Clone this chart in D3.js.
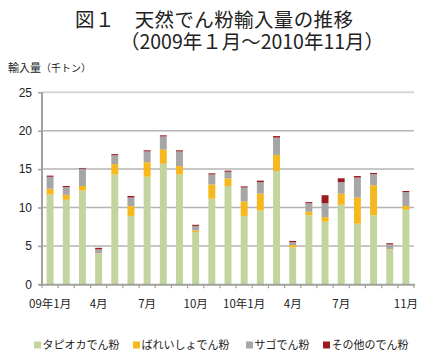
<!DOCTYPE html>
<html><head><meta charset="utf-8">
<script src="https://cdn.jsdelivr.net/npm/d3@7"></script>
<style>body{margin:0;background:#fff}svg{display:block}text{font-family:"Noto Sans CJK JP","Noto Sans",sans-serif;fill:#222}</style>
</head><body><svg id="c" width="431" height="359"></svg>
<script>
const months = ["2009-01","2009-02","2009-03","2009-04","2009-05","2009-06","2009-07","2009-08","2009-09","2009-10","2009-11","2009-12",
  "2010-01","2010-02","2010-03","2010-04","2010-05","2010-06","2010-07","2010-08","2010-09","2010-10","2010-11"];
const monthLabels = ["09年1月","","","4月","","","7月","","","10月","","","10年1月","","","4月","","","7月","","","","11月"];
const tapioca = [11.7,11.0,12.2,4.0,14.3,8.9,14.0,15.7,14.3,6.8,11.15,12.8,8.9,9.6,14.75,4.8,9.0,8.15,10.35,7.9,9.0,4.55,9.7];
const potato  = [0.75,0.65,0.6,0.05,1.35,1.3,1.9,1.85,1.1,0.2,1.85,1.0,1.9,2.2,2.1,0.3,0.45,0.6,1.45,3.4,3.9,0.05,0.5];
const sago    = [1.55,1.0,2.25,0.5,1.15,1.1,1.4,1.7,1.9,0.6,1.3,0.85,1.8,1.5,2.25,0.4,1.1,1.8,1.5,2.6,1.45,0.6,1.8];
const other   = [0.15,0.15,0.1,0.2,0.15,0.2,0.15,0.15,0.15,0.15,0.15,0.15,0.15,0.2,0.2,0.15,0.15,1.05,0.5,0.2,0.15,0.15,0.15];
const seriesNames = ["タピオカでん粉","ばれいしょでん粉","サゴでん粉","その他のでん粉"];
const yTicks = [0,5,10,15,20,25];

const colors = ["#c3d59e","#f7b81e","#a6a6a6","#9b1c20"];
const keys = ["tapioca","potato","sago","other"];
const table = months.map((m,i)=>({m, tapioca:tapioca[i], potato:potato[i], sago:sago[i], other:other[i]}));

const svg = d3.select("#c");
const L=42, R=414, T=92.3, B=284.3;
const x = d3.scaleBand().domain(months).range([L,R]).paddingInner(0.57).paddingOuter(0.285);
const y = d3.scaleLinear().domain([0,25]).range([B,T]);
const step = x.step();

// title
svg.append("text").attr("x",75).attr("y",27).attr("font-size",19.5).attr("textLength",278).attr("lengthAdjust","spacing").text("図１　天然でん粉輸入量の推移");
svg.append("text").attr("x",120).attr("y",48.5).attr("font-size",19.5).attr("textLength",264).attr("lengthAdjust","spacing").text("（2009年１月～2010年11月）");
const yl = svg.append("text").attr("x",8).attr("y",72).attr("font-size",11);
yl.append("tspan").text("輸入量");
yl.append("tspan").attr("font-size",10).text("（千トン）");

// gridlines
svg.append("g").selectAll("line").data(yTicks.filter(d=>d>0)).join("line")
  .attr("x1",L).attr("x2",R).attr("y1",d=>y(d)).attr("y2",d=>y(d))
  .attr("stroke",d=>d===25?"#d6d6d6":"#b4b4b4").attr("stroke-width",d=>d===25?2:1.5);

// bars
const stack = d3.stack().keys(keys)(table);
svg.append("g").selectAll("g").data(stack).join("g").attr("fill",(d,i)=>colors[i])
  .selectAll("rect").data(d=>d).join("rect")
  .attr("x",d=>x(d.data.m)).attr("width",x.bandwidth())
  .attr("y",d=>y(d[1])).attr("height",d=>Math.max(0,y(d[0])-y(d[1])));

// y axis
const yAxis = d3.axisLeft(y).tickValues(yTicks).tickSize(4).tickPadding(6);
const ya = svg.append("g").attr("transform",`translate(${L},0)`).call(yAxis);
ya.select(".domain").remove();
ya.selectAll("line").attr("stroke","#a0a0a0").attr("stroke-width",1.5);
ya.selectAll("text").attr("font-size",12).attr("fill","#222").style("font-family","Liberation Sans, Arial, sans-serif");
svg.append("line").attr("x1",L).attr("x2",L).attr("y1",T).attr("y2",B+1).attr("stroke","#a0a0a0").attr("stroke-width",2);

// x axis
const bounds = months.map(m=>x(m)-(step-x.bandwidth())/2).concat([x(months[months.length-1])+x.bandwidth()+(step-x.bandwidth())/2]);
svg.append("g").selectAll("line").data(bounds).join("line")
  .attr("x1",d=>d).attr("x2",d=>d).attr("y1",B).attr("y2",B+4).attr("stroke","#a0a0a0").attr("stroke-width",1.2);
svg.append("line").attr("x1",L-3).attr("x2",R+1).attr("y1",B+0.5).attr("y2",B+0.5).attr("stroke","#a0a0a0").attr("stroke-width",2);
svg.append("g").selectAll("text").data(months).join("text")
  .attr("x",d=>x(d)+x.bandwidth()/2).attr("y",308).attr("text-anchor","middle").attr("font-size",11.5)
  .text((d,i)=>monthLabels[i]);

// legend
const legX = [34,133,246,323];
const lg = svg.append("g").selectAll("g").data(seriesNames).join("g").attr("transform",(d,i)=>`translate(${legX[i]},341.5)`);
lg.append("rect").attr("width",7).attr("height",7).attr("fill",(d,i)=>colors[i]);
lg.append("text").attr("x",8.5).attr("y",7.5).attr("font-size",11).text(d=>d);
</script></body></html>
